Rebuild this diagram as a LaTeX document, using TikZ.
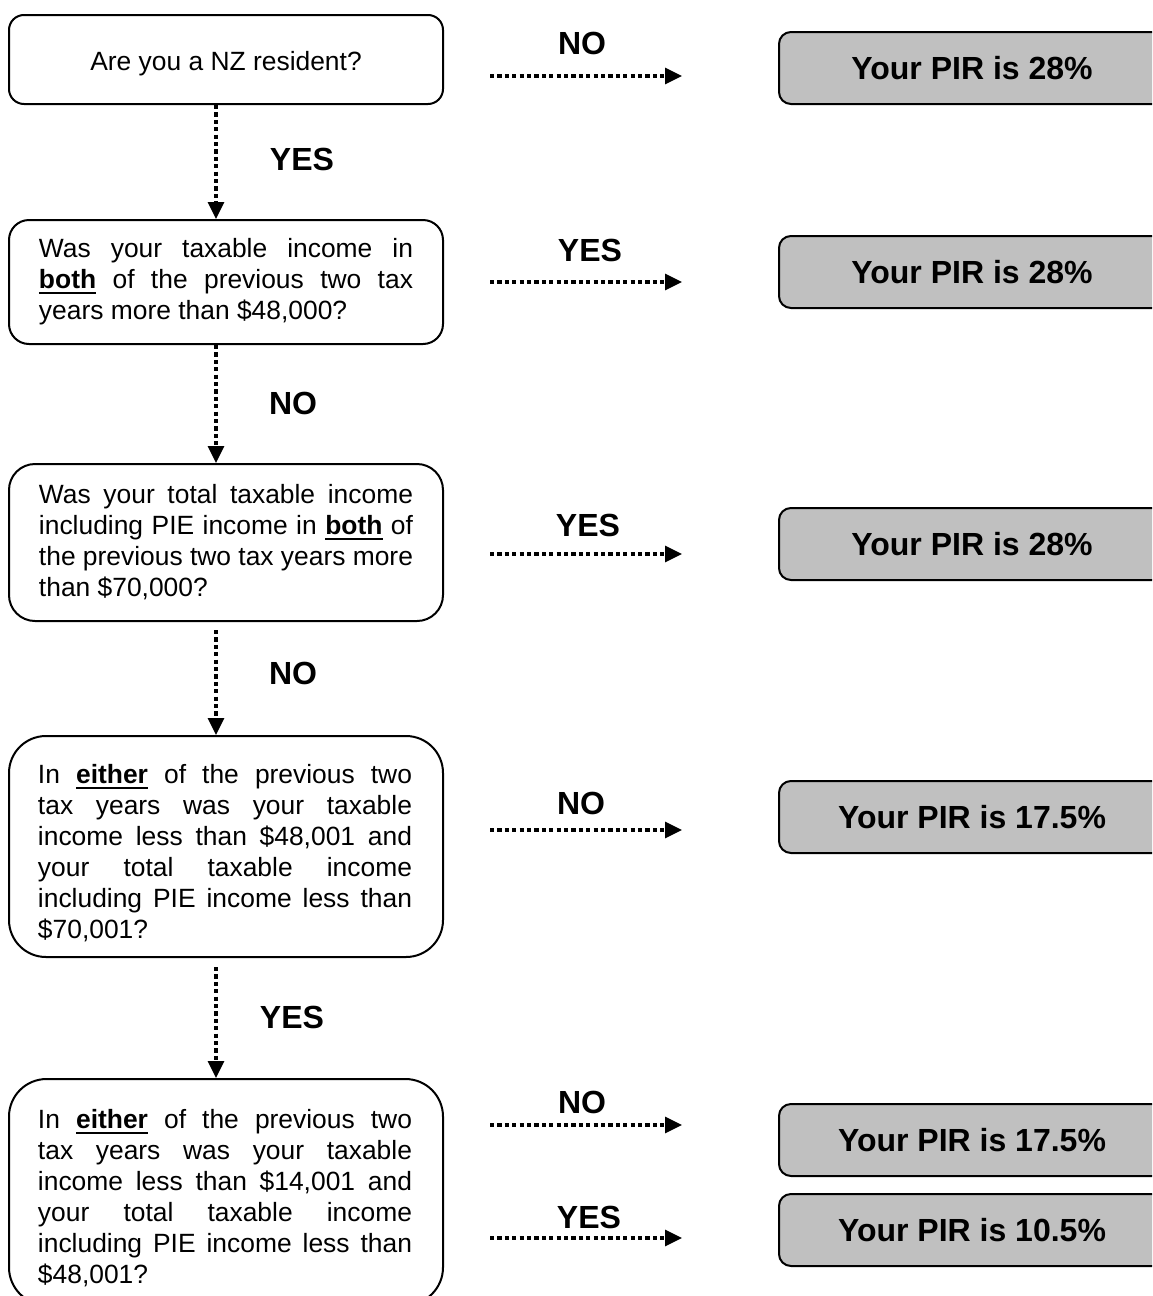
\documentclass[tikz,border=0pt]{standalone}
\usepackage{fontspec}
\setmainfont{Liberation Sans}
\usetikzlibrary{arrows.meta}
\definecolor{boxgray}{RGB}{192,192,192}
\newcommand\myul[1]{\leavevmode\setbox0\hbox{\textbf{#1}}\rlap{\copy0}\rule[-2.6pt]{\wd0}{1pt}}
\begin{document}
\begin{tikzpicture}[x=0.5pt,y=-0.5pt,
  qbox/.style={draw, line width=1pt, anchor=north west, minimum width=217pt, inner sep=0pt},
  qtext/.style={text width=187pt, align=justify, font=\fontsize{13.2}{15.5}\selectfont, inner sep=0pt},
  rbox/.style={draw, line width=1pt, fill=boxgray, rounded corners=6pt, anchor=north west,
    minimum width=193pt, minimum height=36pt, inner sep=0pt, font=\fontsize{16}{19}\selectfont\bfseries},
  lbl/.style={font=\fontsize{16}{19}\selectfont\bfseries, inner sep=0pt},
  arr/.style={line width=1.6pt, dash pattern=on 2.1pt off 1.6pt, -{Triangle[length=8.5pt,width=8pt]}},
]
\useasboundingbox (0,0) rectangle (1152,1296);
\clip (0,0) rectangle (1152,1296);

% question boxes
\node[qbox, minimum height=44.5pt, rounded corners=7.5pt, font=\fontsize{13.2}{15.5}\selectfont, text depth=0pt] (b1) at (8,14) {\raisebox{-1.5pt}{Are you a NZ resident?}};
\node[qbox, qtext, minimum width=217pt, minimum height=62pt, rounded corners=10pt] (b2) at (8,219)
  {Was your taxable income in\linebreak \myul{both} of the previous two tax\linebreak years more than \$48,000?};
\node[qbox, qtext, minimum width=217pt, minimum height=78.5pt, rounded corners=13pt] (b3) at (8,463)
  {Was your total taxable income\linebreak including PIE income in \myul{both} of\linebreak the previous two tax years more\linebreak than \$70,000?};
\node[qbox, minimum height=110.5pt, rounded corners=18.5pt] (b4) at (8,735) {};
\node[qtext] (b4t) at (225,853)
  {In \myul{either} of the previous two\linebreak tax years was your taxable\linebreak income less than \$48,001 and\linebreak your total taxable income\linebreak including PIE income less than\linebreak \$70,001?};
\node[qbox, minimum height=113pt, rounded corners=18.8pt] (b5) at (8,1078) {};
\node[qtext] (b5t) at (225,1198)
  {In \myul{either} of the previous two\linebreak tax years was your taxable\linebreak income less than \$14,001 and\linebreak your total taxable income\linebreak including PIE income less than\linebreak \$48,001?};

% result boxes
\node[rbox] (r1) at (778,31) {Your PIR is 28\%};
\node[rbox] (r2) at (778,235) {Your PIR is 28\%};
\node[rbox] (r3) at (778,507) {Your PIR is 28\%};
\node[rbox] (r4) at (778,780) {Your PIR is 17.5\%};
\node[rbox] (r5) at (778,1103) {Your PIR is 17.5\%};
\node[rbox] (r6) at (778,1193) {Your PIR is 10.5\%};

% vertical connectors
\coordinate (vx) at (216,0);
\draw[arr] (b1.south -| vx) -- (b2.north -| vx);
\draw[arr] (b2.south -| vx) -- (b3.north -| vx);
\draw[arr, shorten <=4pt] (b3.south -| vx) -- (b4.north -| vx);
\draw[arr, shorten <=4.5pt] (b4.south -| vx) -- (b5.north -| vx);
\node[lbl] (v1) at (302,159) {YES};
\node[lbl] (v2) at (293,403) {NO};
\node[lbl] (v3) at (293,673) {NO};
\node[lbl] (v4) at (292,1017) {YES};

% horizontal connectors
\coordinate (h1s) at (490,76);   \coordinate (h1e) at (682,76);
\coordinate (h2s) at (490,282);  \coordinate (h2e) at (682,282);
\coordinate (h3s) at (490,554);  \coordinate (h3e) at (682,554);
\coordinate (h4s) at (490,830);  \coordinate (h4e) at (682,830);
\coordinate (h5s) at (490,1125); \coordinate (h5e) at (682,1125);
\coordinate (h6s) at (490,1238); \coordinate (h6e) at (682,1238);
\draw[arr] (h1s) -- (h1e);
\draw[arr] (h2s) -- (h2e);
\draw[arr] (h3s) -- (h3e);
\draw[arr] (h4s) -- (h4e);
\draw[arr] (h5s) -- (h5e);
\draw[arr] (h6s) -- (h6e);
\node[lbl] (l1) at (582,43) {NO};
\node[lbl] (l2) at (590,250) {YES};
\node[lbl] (l3) at (588,525) {YES};
\node[lbl] (l4) at (581,803) {NO};
\node[lbl] (l5) at (582,1102) {NO};
\node[lbl] (l6) at (589,1217) {YES};
\end{tikzpicture}
\end{document}
